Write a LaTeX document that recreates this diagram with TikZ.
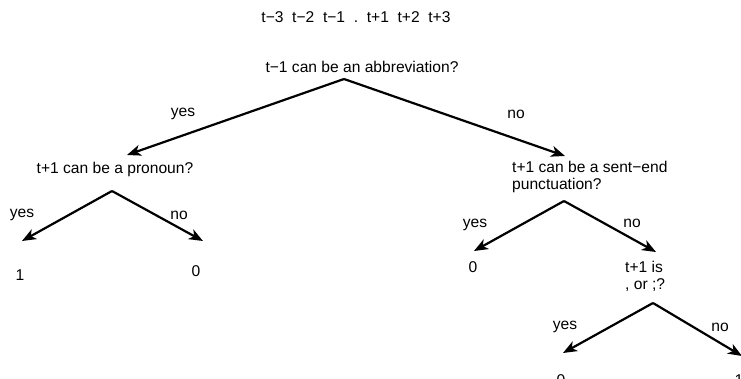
\documentclass[tikz,border=0pt]{standalone}
\usepackage{fontspec}
\setmainfont{Liberation Sans}
\usetikzlibrary{arrows.meta}
\begin{document}
\begin{tikzpicture}[x=1pt,y=-1pt,
        txt/.style={font=\fontsize{15.6}{17}\selectfont, inner sep=0pt},
        branch/.style={line width=2.2pt, -{Stealth[length=14pt,width=11pt,inset=4pt]}}]
        \useasboundingbox (0,0) rectangle (741,379);
        % context window and questions
        \node[txt] (window) at (356,17) {t−3\ \ t−2\ \ t−1\ \ .\ \ t+1\ \ t+2\ \ t+3};
        \node[txt] (abbr) at (362,67) {t−1 can be an abbreviation?};
        \node[txt] (pron) at (115,169) {t+1 can be a pronoun?};
        \node[txt, anchor=west, align=left] (sentend) at (512,177) {t+1 can be a sent−end\\punctuation?};
        \node[txt, anchor=west, align=left] (comma) at (625,276) {t+1 is\\, or ;?};
        % leaves
        \node[txt] (leafA) at (20,275) {1};
        \node[txt] (leafB) at (196,271) {0};
        \node[txt] (leafC) at (473,267) {0};
        \node[txt] (leafD) at (561,380) {0};
        \node[txt] (leafE) at (739,380) {1};
        % branch points
        \coordinate (abbrTop) at (344,79);
        \coordinate (pronTop) at (112,191);
        \coordinate (sentTop) at (564,201);
        \coordinate (commaTop) at (653,303);
        \coordinate (pronIn) at (127,155);
        \coordinate (sentIn) at (565,156);
        \coordinate (leafAIn) at (22,241);
        \coordinate (leafBIn) at (203,241);
        \coordinate (leafCIn) at (474,251);
        \coordinate (commaIn) at (656,252);
        \coordinate (leafDIn) at (563,353);
        \coordinate (leafEIn) at (742,356);
        % branches
        \draw[branch] (abbrTop) -- (pronIn);
        \draw[branch] (abbrTop) -- (sentIn);
        \draw[branch] (pronTop) -- (leafAIn);
        \draw[branch] (pronTop) -- (leafBIn);
        \draw[branch] (sentTop) -- (leafCIn);
        \draw[branch] (sentTop) -- (commaIn);
        \draw[branch] (commaTop) -- (leafDIn);
        \draw[branch] (commaTop) -- (leafEIn);
        % answers
        \node[txt] (yesA) at (183,114) {yes};
        \node[txt] (noA) at (516,114) {no};
        \node[txt] (yesB) at (22,215) {yes};
        \node[txt] (noB) at (179,215) {no};
        \node[txt] (yesC) at (475,225) {yes};
        \node[txt] (noC) at (632,223) {no};
        \node[txt] (yesD) at (565,327) {yes};
        \node[txt] (noD) at (720,327) {no};
\end{tikzpicture}
\end{document}
